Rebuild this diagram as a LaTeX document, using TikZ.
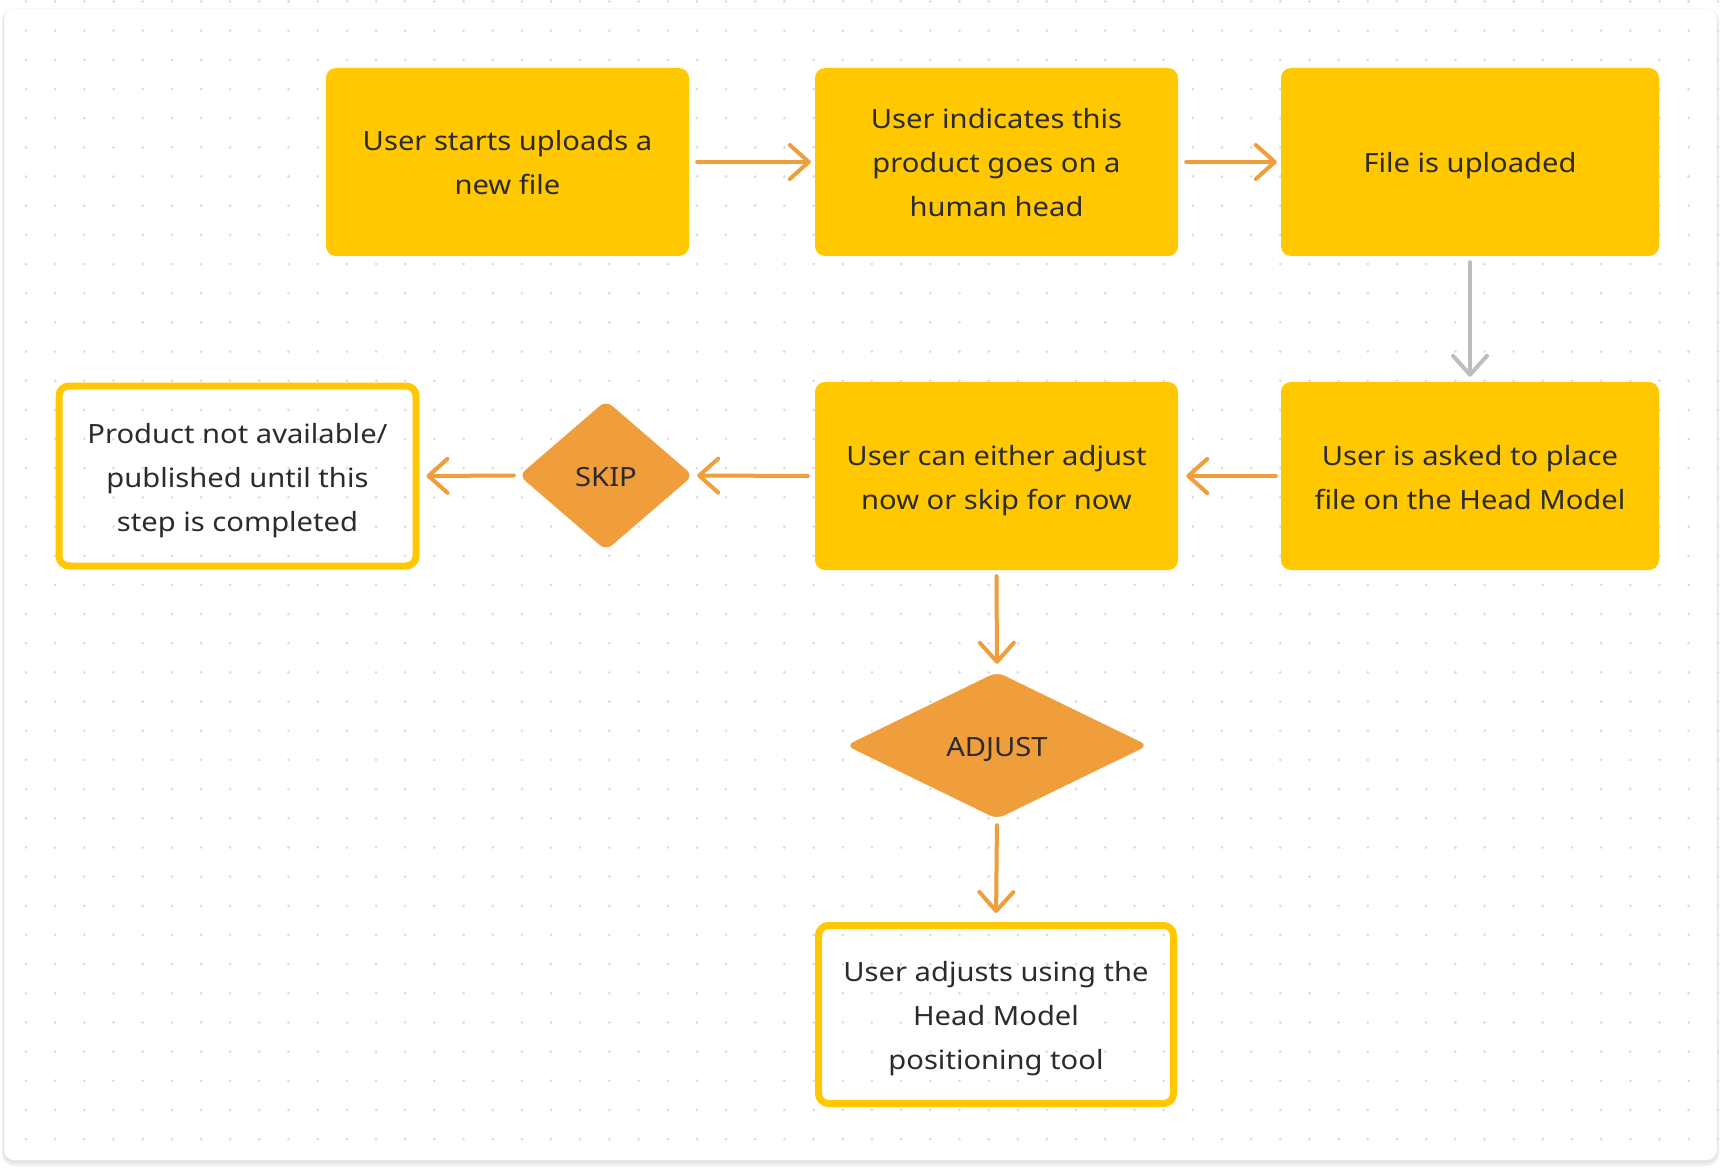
\documentclass[tikz,border=0pt]{standalone}
\usepackage{fontspec}
\setmainfont{Noto Sans}[FakeStretch=1.1]
\usetikzlibrary{arrows.meta,shapes.geometric}
\definecolor{yel}{HTML}{FFC800}
\definecolor{org}{HTML}{F09D3C}
\definecolor{gry}{HTML}{BDBDBD}
\definecolor{txt}{HTML}{2B2B2B}
\definecolor{dotc}{HTML}{DCDCDC}
\newcommand\Lf[1]{\rule{0pt}{22pt}\smash{#1}}
\newcommand\Ln[1]{\smash{#1}}
\tikzset{
  boxtext/.style={text=txt, align=center, font=\fontsize{26.5}{44}\selectfont, inner sep=0pt},
  fillbox/.style={boxtext, shape=rectangle, fill=yel, rounded corners=10pt},
  outbox/.style={boxtext, shape=rectangle, draw=yel, line width=7pt, rounded corners=10pt},
  decision/.style={boxtext, shape=diamond, fill=org, rounded corners=8pt},
  arr/.style={draw=org, line width=4pt, line cap=round, -{Straight Barb[length=19pt,width=34pt,round]}},
  garr/.style={arr, draw=gry},
}
\begin{document}
\begin{tikzpicture}[x=1pt,y=-1pt]
\useasboundingbox (0,0) rectangle (1722,1169);
\fill[white] (0,0) rectangle (1722,1169);
% card shadow
\fill[black!6, rounded corners=12pt] (2,9) rectangle (1719,1166);
\fill[black!10, rounded corners=11pt] (3,9) rectangle (1718,1163);
\fill[white, rounded corners=10pt] (4,9) rectangle (1717,1160);
% dot grid
\foreach \i in {0,...,58} {
  \foreach \j in {0,...,39} {
    \fill[dotc] (26+29.17*\i, 1.5+29.17*\j) circle (1.5);
  }
}
% nodes
\node[fillbox, minimum width=363pt, minimum height=188pt] (b1) at (507.5,162) {\Lf{User starts uploads a}\\\Ln{new file}};
\node[fillbox, minimum width=363pt, minimum height=188pt] (b2) at (996.5,162) {\Lf{User indicates this}\\\Ln{product goes on a}\\\Ln{human head}};
\node[fillbox, minimum width=378pt, minimum height=188pt] (b3) at (1470,162) {\Lf{File is uploaded}};
\node[fillbox, minimum width=378pt, minimum height=188pt] (b4) at (1470,476) {\Lf{User is asked to place}\\\Ln{file on the Head Model}};
\node[fillbox, minimum width=363pt, minimum height=188pt] (b5) at (996.5,476) {\Lf{User can either adjust}\\\Ln{now or skip for now}};
\node[decision, minimum width=174pt, minimum height=150pt] (skip) at (606,475.5) {\Lf{SKIP}};
\node[outbox, minimum width=357pt, minimum height=180pt] (prod) at (237.5,476) {\Lf{Product not available/}\\\Ln{published until this}\\\Ln{step is completed}};
\node[decision, minimum width=302pt, minimum height=147pt] (adj) at (997,745.5) {\Lf{ADJUST}};
\node[outbox, minimum width=355pt, minimum height=178pt] (tool) at (996,1014.5) {\Lf{User adjusts using the}\\\Ln{Head Model}\\\Ln{positioning tool}};
% connectors
\draw[arr, shorten <=8pt, shorten >=4pt] (b1.east) -- (b2.west);
\draw[arr, shorten <=8pt, shorten >=4pt] (b2.east) -- (b3.west);
\draw[garr, shorten <=6pt, shorten >=5pt] (b3.south) -- (b4.north);
\draw[arr, shorten <=5pt, shorten >=8pt] (b4.west) -- (b5.east);
\draw[arr, shorten <=7pt, shorten >=4pt] (b5.west) -- (skip.east);
\draw[arr, shorten <=5pt, shorten >=7pt] (skip.west) -- (prod.east);
\draw[arr, shorten <=6pt, shorten >=8pt] (b5.south) -- (adj.north);
\draw[arr, shorten <=6pt, shorten >=9pt] (adj.south) -- (tool.north);
\end{tikzpicture}
\end{document}
